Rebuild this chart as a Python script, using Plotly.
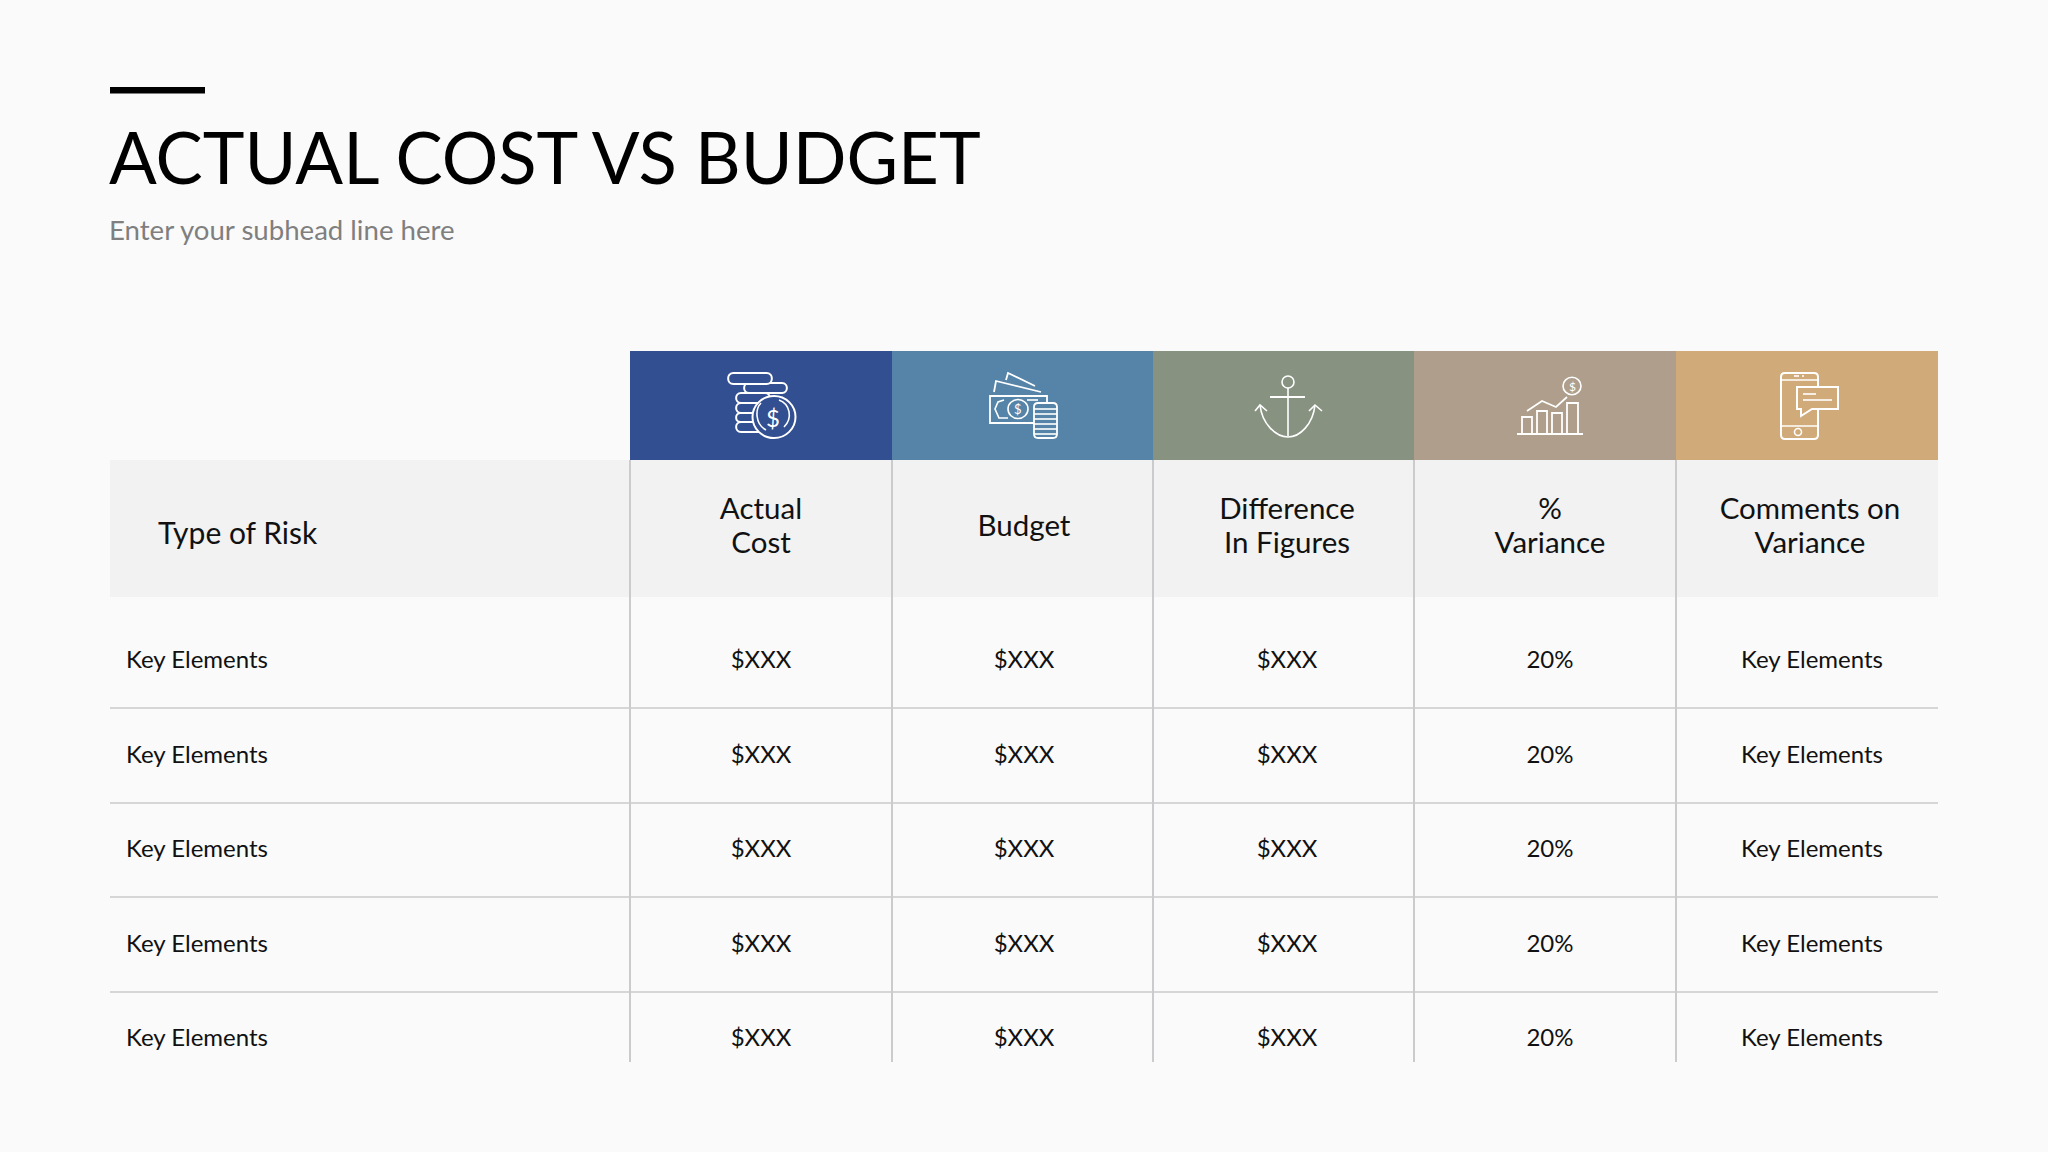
"""Actual cost vs budget slide, drawn on a pixel sized plotly canvas"""
import plotly.graph_objects as go

FONT = "Lato"

# table content
row_header = "Type of Risk"
col_headers = ["Actual<br>Cost", "Budget", "Difference<br>In Figures", "%<br>Variance", "Comments on<br>Variance"]
risk_types = ["Key Elements", "Key Elements", "Key Elements", "Key Elements", "Key Elements"]
actual_cost = ["$XXX", "$XXX", "$XXX", "$XXX", "$XXX"]
budget = ["$XXX", "$XXX", "$XXX", "$XXX", "$XXX"]
difference = ["$XXX", "$XXX", "$XXX", "$XXX", "$XXX"]
variance = [20, 20, 20, 20, 20]
comments = ["Key Elements", "Key Elements", "Key Elements", "Key Elements", "Key Elements"]
header_colors = ["#324f92", "#5684a8", "#879380", "#ae9e8b", "#d0ab79"]

# layout of the slide, in pixels
col_edges = [630, 892, 1153, 1414, 1676, 1938]
col_centers = [761, 1024, 1287, 1550, 1810]
body_centers = [761, 1024, 1287, 1550, 1812]
row_centers = [662, 757, 851, 946, 1040]
row_lines = [708, 803, 897, 992]

ICON = "#ffffff"


def ellipse(cx, cy, rx, ry=None):
    """Closed ellipse as a path, plotly shapes have no arc command"""
    ry = rx if ry is None else ry
    kx, ky = rx * 0.5523, ry * 0.5523
    return (f"M{cx-rx},{cy} C{cx-rx},{cy-ky} {cx-kx},{cy-ry} {cx},{cy-ry} "
            f"C{cx+kx},{cy-ry} {cx+rx},{cy-ky} {cx+rx},{cy} "
            f"C{cx+rx},{cy+ky} {cx+kx},{cy+ry} {cx},{cy+ry} "
            f"C{cx-kx},{cy+ry} {cx-rx},{cy+ky} {cx-rx},{cy} Z")


def pill(x0, y0, x1, y1):
    """Rectangle with fully rounded ends"""
    r = (y1 - y0) / 2
    return (f"M{x0+r},{y0} L{x1-r},{y0} C{x1+r*0.3},{y0} {x1+r*0.3},{y1} {x1-r},{y1} "
            f"L{x0+r},{y1} C{x0-r*0.3},{y1} {x0-r*0.3},{y0} {x0+r},{y0} Z")


def rounded(x0, y0, x1, y1, r=3):
    return (f"M{x0+r},{y0} L{x1-r},{y0} Q{x1},{y0} {x1},{y0+r} L{x1},{y1-r} Q{x1},{y1} {x1-r},{y1} "
            f"L{x0+r},{y1} Q{x0},{y1} {x0},{y1-r} L{x0},{y0+r} Q{x0},{y0} {x0+r},{y0} Z")


def poly(points, close=False):
    path = "M" + " L".join(f"{x},{y}" for x, y in points)
    return path + (" Z" if close else "")


def icon_path(path, width=2, fill=None):
    return dict(type="path", path=path, xref="x", yref="y", layer="above",
                line=dict(color=ICON, width=width), fillcolor=fill or "rgba(0,0,0,0)")


def background_shapes():
    shapes = []
    # grey header band
    shapes.append(dict(type="rect", x0=110, x1=1938, y0=460, y1=597, layer="below",
                       fillcolor="#f2f2f2", line_width=0))
    # table rules
    for y in row_lines:
        shapes.append(dict(type="line", x0=110, x1=1938, y0=y, y1=y, layer="below",
                           line=dict(color="#d6d6d6", width=2)))
    for x in col_edges[:-1]:
        shapes.append(dict(type="line", x0=x, x1=x, y0=460, y1=1062, layer="below",
                           line=dict(color="#cbcbce", width=2)))
    # coloured icon band
    for i, color in enumerate(header_colors):
        shapes.append(dict(type="rect", x0=col_edges[i], x1=col_edges[i + 1], y0=351, y1=460,
                           layer="below", fillcolor=color, line_width=0))
    # short rule above the title
    shapes.append(dict(type="rect", x0=110, x1=205, y0=87, y1=93.5, fillcolor="#000000", line_width=0))
    return shapes


def coin_icon():
    blue = header_colors[0]
    out = []
    for x0, y0, x1, y1 in [(736, 422, 770, 432), (736, 413, 770, 422), (736, 403, 770, 413),
                           (736, 393, 770, 403), (744, 383, 787, 393), (728, 373, 772, 384)]:
        out.append(icon_path(pill(x0, y0, x1, y1), fill=blue))
    out.append(icon_path(ellipse(774, 417, 21.5, 21), fill=blue))
    out.append(icon_path("M761,403 C755,409 755,424 766,430", 1.6))
    out.append(icon_path("M779,400 C790,404 793,418 784,427", 1.6))
    return out


def money_icon():
    blue = header_colors[1]
    out = [
        icon_path(poly([(994, 392), (996, 381), (1041, 392)]), 1.8),
        icon_path(poly([(1006, 380), (1008, 373), (1035, 386)]), 1.8),
        icon_path(poly([(990, 396), (1047, 396), (1047, 423), (990, 423)], True), 1.8),
        icon_path(poly([(1004, 400), (998, 402), (995, 409), (999, 418), (1008, 418)]), 1.6),
        icon_path(poly([(1027, 400), (1038, 400)]), 1.6),
        icon_path(ellipse(1018, 409, 10, 9.5), 1.6),
        icon_path(rounded(1034, 403, 1057, 438, 4), 1.8, blue),
    ]
    for y in (409, 414, 419, 424, 429, 434):
        out.append(icon_path(poly([(1034, y), (1057, y)]), 1.6))
    return out


def anchor_icon():
    return [
        icon_path(ellipse(1288, 382, 6, 6), 1.6),
        icon_path(poly([(1288, 388), (1288, 436)]), 1.6),
        icon_path(poly([(1270, 397), (1305, 397)]), 1.8),
        icon_path("M1260,405 C1262,424 1276,437 1288,437 C1300,437 1313,424 1315,405", 1.6),
        icon_path(poly([(1255, 411), (1260, 405), (1267, 411)]), 1.6),
        icon_path(poly([(1309, 411), (1315, 405), (1322, 411)]), 1.6),
    ]


def growth_icon():
    out = [icon_path(poly([(1517, 434), (1583, 434)]), 2)]
    for x0, x1, top in [(1522, 1532, 417), (1537, 1547, 411), (1552, 1562, 413), (1567, 1578, 403)]:
        out.append(icon_path(poly([(x0, 434), (x0, top), (x1, top), (x1, 434)]), 1.8))
    out.append(icon_path(poly([(1527, 411), (1542, 401), (1556, 407), (1567, 397)]), 1.8))
    out.append(icon_path(ellipse(1572, 386, 9, 8.7), 1.6))
    return out


def phone_icon():
    gold = header_colors[4]
    return [
        icon_path(rounded(1781, 373, 1818, 439, 4), 2),
        icon_path(poly([(1781, 380), (1818, 380)]), 1.6),
        icon_path(poly([(1781, 426), (1818, 426)]), 1.6),
        icon_path(ellipse(1798, 432, 3.5, 3.5), 1.6),
        icon_path(poly([(1794, 376), (1799, 376)]), 1.6),
        icon_path(poly([(1802, 376), (1804, 376)]), 1.6),
        icon_path(poly([(1797, 387), (1838, 387), (1838, 409), (1812, 409),
                        (1801, 416), (1801, 409), (1797, 409)], True), 2, gold),
        icon_path(poly([(1803, 394), (1816, 394)]), 1.6),
        icon_path(poly([(1803, 400), (1832, 400)]), 1.6),
    ]


def text_trace(x, y, text, size, color="#111111", position="middle center"):
    return go.Scatter(x=x, y=y, text=text, mode="text", textposition=position, hoverinfo="skip",
                      textfont=dict(family=FONT, size=size, color=color), showlegend=False)


def note(x, y, text, size, color, xanchor="left"):
    return dict(x=x, y=y, text=text, xref="x", yref="y", xanchor=xanchor, yanchor="middle",
                showarrow=False, font=dict(family=FONT, size=size, color=color))


fig = go.Figure()

# header texts, two line headers are placed line by line for the tighter spacing
fig.add_trace(text_trace([158], [536], [row_header], 30, position="middle right"))
for center, header in zip(col_centers, col_headers):
    lines = header.split("<br>")
    ys = [512, 546] if len(lines) == 2 else [529]
    fig.add_trace(text_trace([center] * len(lines), ys, lines, 29.5))

# body columns
body = [actual_cost, budget, difference, [f"{v}%" for v in variance], comments]
fig.add_trace(text_trace([126] * len(risk_types), row_centers, risk_types, 24, position="middle right"))
for center, column in zip(body_centers, body):
    fig.add_trace(text_trace([center] * len(column), row_centers, column, 24))

shapes = background_shapes() + coin_icon() + money_icon() + anchor_icon() + growth_icon() + phone_icon()

notes = [
    note(107, 156, "ACTUAL COST VS BUDGET", 70.7, "#000000"),
    note(107, 229, "Enter your subhead line here", 27.6, "#7f7f7f"),
    # dollar signs inside the icons sit on top of the filled shapes
    note(773, 417, "$", 24, ICON, "center"),
    note(1018, 409, "$", 13, ICON, "center"),
    note(1572, 386, "$", 12, ICON, "center"),
]

fig.update_layout(
    width=2048, height=1152, margin=dict(l=0, r=0, t=0, b=0),
    paper_bgcolor="#fafafa", plot_bgcolor="#fafafa",
    shapes=shapes, annotations=notes, showlegend=False,
)
fig.update_xaxes(range=[0, 2048], visible=False, fixedrange=True)
fig.update_yaxes(range=[1152, 0], visible=False, fixedrange=True)
# the page default margin would push the slide 8px in
fig.write_html("out.html", config={"displayModeBar": False},
               post_script="document.body.style.margin='0';document.body.style.background='#fafafa';")
